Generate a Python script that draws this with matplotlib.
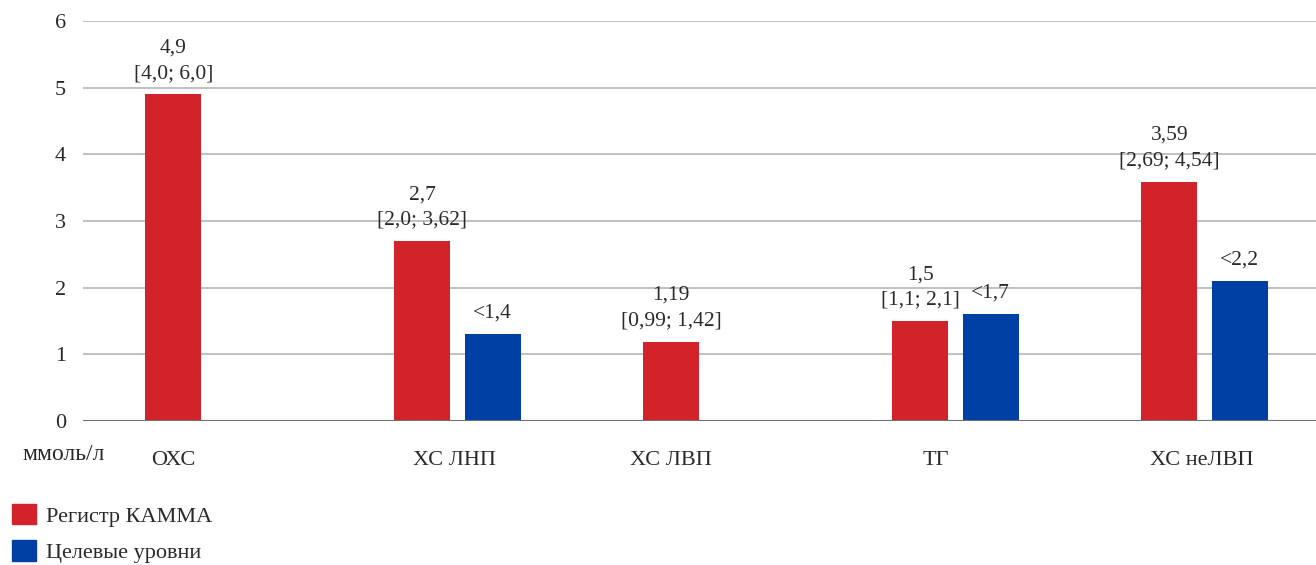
import numpy as np
import matplotlib
matplotlib.use("Agg")
from matplotlib import pyplot as plt
from matplotlib.patches import Patch

# data
categories = ["ОХС", "ХС ЛНП", "ХС ЛВП", "ТГ", "ХС неЛВП"]
registry = [4.9, 2.7, 1.19, 1.5, 3.59]
registry_labels = ["4,9\n[4,0; 6,0]", "2,7\n[2,0; 3,62]", "1,19\n[0,99; 1,42]",
                   "1,5\n[1,1; 2,1]", "3,59\n[2,69; 4,54]"]
target = [np.nan, 1.3, np.nan, 1.6, 2.1]
target_labels = ["", "<1,4", "", "<1,7", "<2,2"]

red = "#d2232b"
blue = "#0040a5"

plt.rcParams["font.family"] = ["Liberation Serif", "DejaVu Serif"]
plt.rcParams["font.size"] = 16

fig = plt.figure(figsize=(13.16, 5.65), dpi=100)
ax = fig.add_axes([0.063, 0.255, 0.937, 0.708])

x = np.arange(len(categories))
w = 0.225
off = 0.141

ax.bar(x - off + 0.01, registry, w, color=red, zorder=3)
ax.bar(x + off + 0.01, target, w, color=blue, zorder=3)

for xi, v, lab in zip(x, registry, registry_labels):
    ax.text(xi - off + 0.01, v + 0.17, lab, ha="center", va="bottom",
            color="#2a2a2a", linespacing=1.45, fontsize=15.5)
for xi, v, lab in zip(x, target, target_labels):
    if lab:
        ax.text(xi + off + 0.01, v + 0.17, lab, ha="center", va="bottom",
                color="#2a2a2a", fontsize=15.5)

ax.set_ylim(0, 6)
ax.set_xlim(-0.494, 4.458)
ax.set_yticks(range(7))
ax.yaxis.grid(True, color="#b5b5b5", linewidth=1.2, zorder=0)
ax.axhline(0, color="#707070", linewidth=1.5, zorder=4)
for s in ax.spines.values():
    s.set_visible(False)
ax.tick_params(length=0, labelcolor="#2a2a2a", pad=22)
ax.tick_params(axis="y", pad=12)

# category labels: under red bar when there is no target bar
tick_pos = [xi - off + 0.01 if np.isnan(t) else xi for xi, t in zip(x, target)]
tick_pos[3] = 3 - 0.07
ax.set_xticks(tick_pos)
ax.set_xticklabels(categories)

fig.text(22 / 1316, 1 - 455 / 565, "ммоль/л", ha="left", va="center", color="#2a2a2a",
         fontsize=17)

handles = [Patch(color=red, label="Регистр КАММА"), Patch(color=blue, label="Целевые уровни")]
fig.legend(handles=handles, loc="lower left", bbox_to_anchor=(10 / 1316, 0.0),
           frameon=False, borderpad=0.1, borderaxespad=0,
           handlelength=1.05, handleheight=1.05, handletextpad=0.45, labelspacing=0.6,
           labelcolor="#2a2a2a", fontsize=16)

fig.savefig("out.png", dpi=100)
